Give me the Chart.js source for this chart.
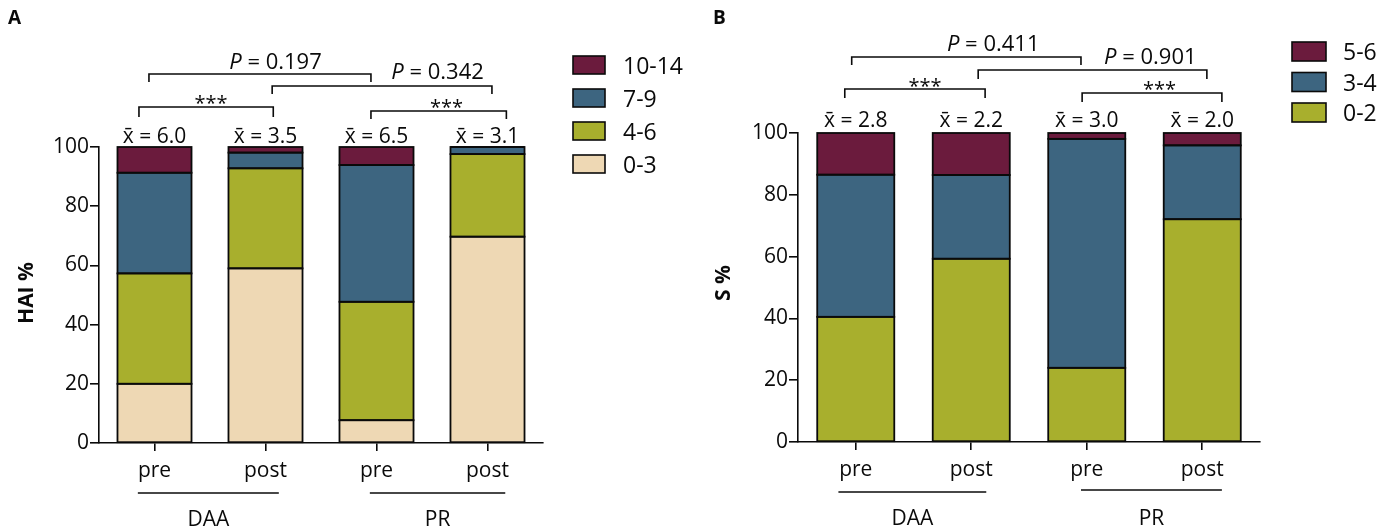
<!DOCTYPE html>
<html>
<head>
<meta charset="utf-8">
<script src="https://cdn.jsdelivr.net/npm/chart.js@4.4.0/dist/chart.umd.min.js"></script>
<style>
    body { margin: 0; background: #fff; width: 1396px; height: 530px; overflow: hidden; position: relative; }
    .panel { position: absolute; top: 0; width: 698px; height: 530px; }
</style>
</head>
<body>
<div class="panel" style="left:0"><canvas id="chartA" width="698" height="530"></canvas></div>
<div class="panel" style="left:698px"><canvas id="chartB" width="698" height="530"></canvas></div>
<script>
// categories
var groups = ['pre', 'post', 'pre', 'post'];
var arms = ['DAA', 'PR'];

// panel A: HAI score classes (% of patients)
var hai03 = [20.0, 59.0, 7.7, 69.7];
var hai46 = [37.3, 33.8, 40.0, 27.9];
var hai79 = [34.0, 5.3, 46.2, 2.4];
var hai1014 = [8.7, 1.9, 6.1, 0];
var haiMeans = ['6.0', '3.5', '6.5', '3.1'];
var haiP = ['0.197', '0.342'];

// panel B: S score classes (% of patients)
var s02 = [40.5, 59.3, 24.0, 72.1];
var s34 = [46.0, 27.1, 74.1, 23.9];
var s56 = [13.5, 13.6, 1.9, 4.0];
var sMeans = ['2.8', '2.2', '3.0', '2.0'];
var sP = ['0.411', '0.901'];

var maroon = '#6b1b3d', blue = '#3d6580', olive = '#a8af2d', beige = '#eed8b4';
var INK = '#0a0a0a';
var FONT = "'Open Sans', sans-serif";

function ds(label, data, color) {
    return {
        label: label, data: data, backgroundColor: color,
        borderWidth: 0, barPercentage: 0.667, categoryPercentage: 1
    };
}

// centre the ink of a text on (cx, cy)
function inkText(ctx, txt, cx, cy) {
    var m = ctx.measureText(txt);
    ctx.fillText(txt, cx, cy + (m.actualBoundingBoxAscent - m.actualBoundingBoxDescent) / 2);
}

var annot = {
    id: 'annot',
    // outline every bar segment with one even line
    afterDatasetsDraw: function (chart) {
        var ctx = chart.ctx;
        ctx.save();
        ctx.strokeStyle = INK;
        ctx.lineWidth = 1.8;
        chart.data.datasets.forEach(function (d, i) {
            chart.getDatasetMeta(i).data.forEach(function (bar) {
                var p = bar.getProps(['x', 'y', 'base', 'width'], true);
                ctx.strokeRect(p.x - p.width / 2, Math.min(p.y, p.base), p.width, Math.abs(p.base - p.y));
            });
        });
        ctx.restore();
    },
    afterDraw: function (chart, args, o) {
        var ctx = chart.ctx;
        var xs = chart.scales.x;
        var x0 = xs.getPixelForValue(0), step = xs.getPixelForValue(1) - x0;
        var px = function (v) { return x0 + v * step; };
        ctx.save();
        ctx.fillStyle = INK;
        ctx.strokeStyle = INK;
        ctx.lineWidth = 1.6;
        ctx.textAlign = 'center';
        ctx.textBaseline = 'alphabetic';

        // panel letter
        ctx.font = 'bold 19px ' + FONT;
        ctx.textAlign = 'left';
        inkText(ctx, o.letter, o.letterX, 16.5);

        // y title
        ctx.save();
        ctx.translate(o.titleX, o.titleY);
        ctx.rotate(-Math.PI / 2);
        ctx.textAlign = 'center';
        ctx.font = 'bold 21px ' + FONT;
        inkText(ctx, o.title, 0, 0);
        ctx.restore();

        // means above bars
        ctx.textAlign = 'center';
        ctx.font = '21px ' + FONT;
        o.means.forEach(function (m, i) {
            ctx.fillText('x\u0304 = ' + m, px(i), o.meanBase);
        });

        // brackets
        o.brackets.forEach(function (b) {
            ctx.beginPath();
            ctx.moveTo(px(b.a), b.y + b.leg);
            ctx.lineTo(px(b.a), b.y);
            ctx.lineTo(px(b.b), b.y);
            ctx.lineTo(px(b.b), b.y + b.leg);
            ctx.stroke();
            if (b.p) {
                ctx.font = 'italic 22px ' + FONT;
                var wP = ctx.measureText('P').width;
                ctx.font = '22px ' + FONT;
                var rest = ' = ' + b.p;
                var wR = ctx.measureText(rest).width;
                var left = px(b.tx) - (wP + wR) / 2;
                var m = ctx.measureText('0');
                var base = b.ty + (m.actualBoundingBoxAscent - m.actualBoundingBoxDescent) / 2;
                ctx.textAlign = 'left';
                ctx.font = 'italic 22px ' + FONT;
                ctx.fillText('P', left, base);
                ctx.font = '22px ' + FONT;
                ctx.fillText(rest, left + wP, base);
                ctx.textAlign = 'center';
            } else {
                ctx.font = '20px ' + FONT;
                inkText(ctx, '***', px(b.tx), b.ty);
            }
        });

        // group lines under the axis
        ctx.font = '21px ' + FONT;
        o.arms.forEach(function (g) {
            ctx.beginPath();
            ctx.moveTo(px(g.a), g.y);
            ctx.lineTo(px(g.b), g.y);
            ctx.stroke();
            inkText(ctx, g.label, (px(g.a) + px(g.b)) / 2, g.ty);
        });

        // legend, top class first
        var sets = chart.data.datasets.slice().reverse();
        ctx.textAlign = 'left';
        sets.forEach(function (d, k) {
            var top = o.legY + k * o.legGap;
            ctx.fillStyle = d.backgroundColor;
            ctx.fillRect(o.legX, top, o.legW, o.legH);
            ctx.strokeRect(o.legX, top, o.legW, o.legH);
            ctx.fillStyle = INK;
            ctx.font = '23px ' + FONT;
            var m = ctx.measureText('0');
            ctx.fillText(d.label, o.legTextX, top + o.legH / 2 + (m.actualBoundingBoxAscent - m.actualBoundingBoxDescent) / 2);
        });
        ctx.restore();
    }
};

function makeChart(id, datasets, pad, yWidth, plugOpts) {
    return new Chart(document.getElementById(id), {
        type: 'bar',
        data: { labels: groups, datasets: datasets },
        plugins: [annot],
        options: {
            responsive: false,
            animation: false,
            devicePixelRatio: 1,
            layout: { padding: pad },
            plugins: { legend: { display: false }, tooltip: { enabled: false }, annot: plugOpts },
            scales: {
                x: {
                    stacked: true,
                    afterFit: function (s) { s.height = 40; },
                    grid: { display: true, drawOnChartArea: false, drawTicks: true, tickLength: 8, offset: false, color: INK, lineWidth: 1.6 },
                    border: { display: true, color: INK, width: 1.6 },
                    ticks: { color: INK, font: { family: FONT, size: 21 }, padding: 7, maxRotation: 0 }
                },
                y: {
                    stacked: true,
                    min: 0, max: 100,
                    afterFit: function (s) { s.width = yWidth; },
                    grid: { display: true, drawOnChartArea: false, drawTicks: true, tickLength: 9, color: INK, lineWidth: 1.6 },
                    border: { display: true, color: INK, width: 1.6 },
                    ticks: { stepSize: 20, color: INK, font: { family: FONT, size: 21 }, padding: 1 }
                }
            }
        }
    });
}

makeChart('chartA', [
    ds('0-3', hai03, beige),
    ds('4-6', hai46, olive),
    ds('7-9', hai79, blue),
    ds('10-14', hai1014, maroon)
], { left: 0, right: 155, top: 147, bottom: 47 }, 99, {
    letter: 'A', letterX: 8,
    title: 'HAI %', titleX: 25, titleY: 293,
    means: haiMeans, meanBase: 143,
    brackets: [
        { a: -0.05, b: 1.95, y: 74, leg: 8, p: haiP[0], tx: 1.09, ty: 61 },
        { a: 1.06, b: 3.04, y: 86, leg: 8, p: haiP[1], tx: 2.55, ty: 70.5 },
        { a: -0.14, b: 1.07, y: 107, leg: 10, tx: 0.51, ty: 99 },
        { a: 1.95, b: 3.17, y: 111, leg: 8, tx: 2.63, ty: 103 }
    ],
    arms: [
        { a: -0.15, b: 1.12, y: 493, label: arms[0], ty: 518 },
        { a: 1.94, b: 3.16, y: 493, label: arms[1], ty: 518 }
    ],
    legX: 573, legY: 56, legGap: 33, legW: 32, legH: 18, legTextX: 623
});

makeChart('chartB', [
    ds('0-2', s02, olive),
    ds('3-4', s34, blue),
    ds('5-6', s56, maroon)
], { left: 0, right: 136, top: 133, bottom: 48 }, 100, {
    letter: 'B', letterX: 15,
    title: 'S %', titleX: 24, titleY: 283,
    means: sMeans, meanBase: 127,
    brackets: [
        { a: -0.035, b: 1.95, y: 57, leg: 8, p: sP[0], tx: 1.19, ty: 43 },
        { a: 1.06, b: 3.04, y: 70, leg: 9, p: sP[1], tx: 2.55, ty: 56 },
        { a: -0.095, b: 1.12, y: 89, leg: 9, tx: 0.60, ty: 82 },
        { a: 1.96, b: 3.17, y: 93, leg: 9, tx: 2.63, ty: 85 }
    ],
    arms: [
        { a: -0.15, b: 1.13, y: 492, label: arms[0], ty: 517 },
        { a: 1.95, b: 3.17, y: 490, label: arms[1], ty: 517 }
    ],
    legX: 594, legY: 42, legGap: 30.5, legW: 34, legH: 19, legTextX: 645
});
</script>
</body>
</html>
